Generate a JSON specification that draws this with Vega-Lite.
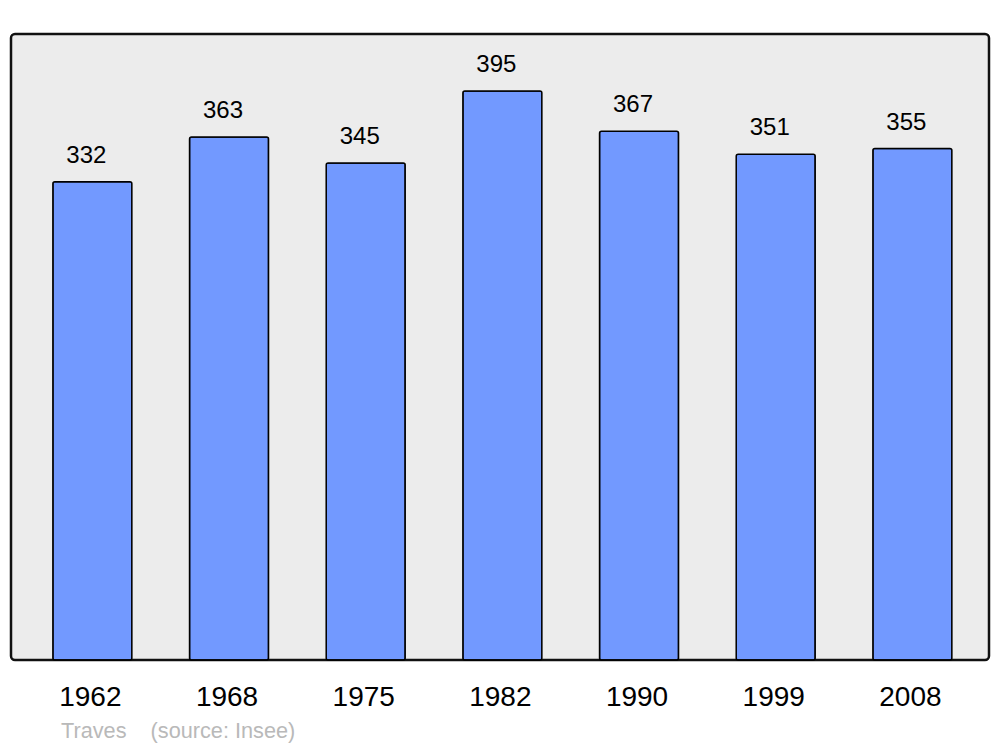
{
  "$schema": "https://vega.github.io/schema/vega-lite/v6.json",
  "width": 978,
  "height": 626,
  "autosize": {"type": "none"},
  "padding": {"left": 11, "top": 34, "right": 11, "bottom": 87},
  "background": "white",
  "config": {
    "font": "Liberation Sans",
    "view": {"fill": "#ececec", "stroke": "#111111", "strokeWidth": 2.5, "cornerRadius": 4}
  },
  "title": {
    "text": "Traves\u00a0\u00a0\u00a0\u00a0(source: Insee)",
    "orient": "bottom",
    "anchor": "start",
    "dx": 50,
    "offset": 10,
    "fontSize": 21.7,
    "fontWeight": "normal",
    "color": "#b9b9b9",
    "font": "Liberation Sans"
  },
  "data": {
    "values": [
      {"year": "1962", "pop": 332},
      {"year": "1968", "pop": 363},
      {"year": "1975", "pop": 345},
      {"year": "1982", "pop": 395},
      {"year": "1990", "pop": 367},
      {"year": "1999", "pop": 351},
      {"year": "2008", "pop": 355}
    ]
  },
  "encoding": {
    "x": {
      "field": "year",
      "type": "nominal",
      "sort": null,
      "scale": {"paddingInner": 0.422, "paddingOuter": 0.289, "align": 0.53},
      "axis": {
        "title": null,
        "labelAngle": 0,
        "ticks": false,
        "domain": false,
        "labelFontSize": 28,
        "labelColor": "#000000",
        "labelPadding": 23,
        "labelOffset": -2,
        "labelFont": "Liberation Sans"
      }
    },
    "y": {
      "field": "pop",
      "type": "quantitative",
      "scale": {"domain": [0, 434.5], "nice": false, "zero": true},
      "axis": null
    }
  },
  "layer": [
    {
      "mark": {"type": "bar", "fill": "#7299ff", "stroke": "#000000", "strokeWidth": 1.5, "cornerRadius": 2}
    },
    {
      "mark": {"type": "text", "baseline": "alphabetic", "dx": -6, "dy": -19, "fontSize": 24, "color": "#000000", "font": "Liberation Sans"},
      "encoding": {"text": {"field": "pop", "type": "quantitative"}}
    }
  ]
}
